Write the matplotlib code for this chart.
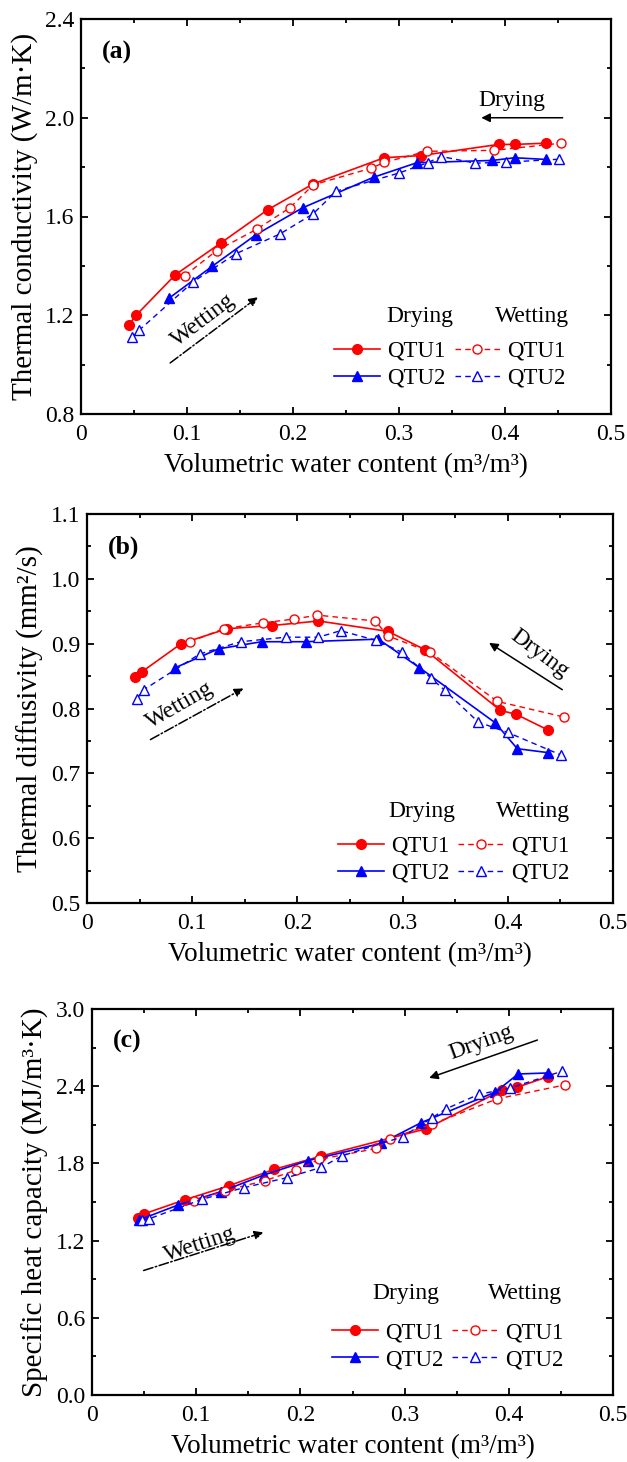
import numpy as np
import matplotlib
matplotlib.use("Agg")
import matplotlib.pyplot as plt

plt.rcParams["font.family"] = ["Liberation Serif", "DejaVu Serif"]
plt.rcParams["font.size"] = 17

# ---- (a) thermal conductivity (W/m.K)
a_dry1_x = [0.045, 0.052, 0.089, 0.132, 0.176, 0.219, 0.286, 0.321, 0.394, 0.409, 0.439]
a_dry1_y = [1.16, 1.20, 1.364, 1.493, 1.627, 1.732, 1.838, 1.847, 1.892, 1.892, 1.897]
a_wet1_x = [0.098, 0.128, 0.166, 0.197, 0.219, 0.274, 0.286, 0.326, 0.390, 0.453]
a_wet1_y = [1.361, 1.462, 1.549, 1.635, 1.728, 1.796, 1.819, 1.864, 1.868, 1.897]
a_dry2_x = [0.083, 0.124, 0.165, 0.209, 0.276, 0.317, 0.388, 0.409, 0.439]
a_dry2_y = [1.269, 1.399, 1.526, 1.635, 1.759, 1.818, 1.827, 1.838, 1.831]
a_wet2_x = [0.048, 0.055, 0.106, 0.146, 0.188, 0.219, 0.241, 0.300, 0.327, 0.340, 0.372, 0.401, 0.451]
a_wet2_y = [1.11, 1.14, 1.336, 1.449, 1.530, 1.611, 1.703, 1.776, 1.818, 1.843, 1.816, 1.820, 1.832]

# ---- (b) thermal diffusivity (mm2/s)
b_dry1_x = [0.046, 0.0525, 0.0895, 0.133, 0.176, 0.220, 0.286, 0.321, 0.393, 0.408, 0.438]
b_dry1_y = [0.848, 0.857, 0.900, 0.923, 0.928, 0.935, 0.919, 0.891, 0.797, 0.791, 0.767]
b_wet1_x = [0.098, 0.130, 0.167, 0.197, 0.219, 0.274, 0.286, 0.326, 0.390, 0.453]
b_wet1_y = [0.903, 0.923, 0.932, 0.938, 0.944, 0.935, 0.912, 0.887, 0.811, 0.787]
b_dry2_x = [0.084, 0.125, 0.166, 0.208, 0.277, 0.316, 0.388, 0.409, 0.438]
b_dry2_y = [0.863, 0.892, 0.903, 0.903, 0.907, 0.863, 0.778, 0.738, 0.732]
b_wet2_x = [0.0475, 0.054, 0.107, 0.146, 0.189, 0.220, 0.241, 0.275, 0.299, 0.327, 0.340, 0.372, 0.400, 0.451]
b_wet2_y = [0.815, 0.829, 0.884, 0.903, 0.910, 0.910, 0.920, 0.905, 0.887, 0.847, 0.828, 0.779, 0.763, 0.728]

# ---- (c) specific heat capacity (MJ/m3.K)
c_dry1_x = [0.044, 0.050, 0.089, 0.131, 0.175, 0.220, 0.321, 0.393, 0.408, 0.438]
c_dry1_y = [1.375, 1.408, 1.517, 1.625, 1.754, 1.857, 2.070, 2.367, 2.392, 2.475]
c_wet1_x = [0.0975, 0.128, 0.166, 0.196, 0.218, 0.273, 0.286, 0.326, 0.389, 0.454]
c_wet1_y = [1.509, 1.589, 1.666, 1.748, 1.831, 1.916, 1.993, 2.104, 2.302, 2.410]
c_dry2_x = [0.045, 0.083, 0.124, 0.165, 0.207, 0.277, 0.316, 0.387, 0.409, 0.438]
c_dry2_y = [1.36, 1.478, 1.581, 1.710, 1.821, 1.955, 2.117, 2.354, 2.495, 2.503]
c_wet2_x = [0.048, 0.055, 0.106, 0.146, 0.187, 0.220, 0.240, 0.298, 0.326, 0.340, 0.371, 0.401, 0.451]
c_wet2_y = [1.36, 1.37, 1.522, 1.612, 1.689, 1.769, 1.859, 2.006, 2.153, 2.225, 2.336, 2.385, 2.516]

xlabel = "Volumetric water content (m³/m³)"
ylabels = ["Thermal conductivity (W/m·K)", "Thermal diffusivity (mm²/s)",
           "Specific heat capacity (MJ/m³·K)"]
panel_tags = ["(a)", "(b)", "(c)"]
series_labels = ["QTU1", "QTU2", "QTU1", "QTU2"]

W, H = 627, 1462
fig = plt.figure(figsize=(W / 100, H / 100), dpi=100)

# axes boxes in pixels: left, top, right, bottom
boxes = [(81, 19, 611, 414), (87, 514, 613, 903), (92, 1009, 613, 1395)]
axs = []
for l, t, r, b in boxes:
    axs.append(fig.add_axes([l / W, 1 - b / H, (r - l) / W, (b - t) / H]))

red, blue = "#ff0000", "#0000ff"
wet_ls = (0, (4, 3))


def draw(ax, d1x, d1y, w1x, w1y, d2x, d2y, w2x, w2y):
    ax.plot(d1x, d1y, "-", color=red, marker="o", ms=7, lw=1.2)
    ax.plot(d2x, d2y, "-", color=blue, marker="^", ms=7, lw=1.2)
    ax.plot(w1x, w1y, ls=wet_ls, color=red, marker="o", ms=6.5, mfc="white", mew=1.0, lw=1.0)
    ax.plot(w2x, w2y, ls=wet_ls, color=blue, marker="^", ms=6.5, mfc="white", mew=1.0, lw=1.0)


draw(axs[0], a_dry1_x, a_dry1_y, a_wet1_x, a_wet1_y, a_dry2_x, a_dry2_y, a_wet2_x, a_wet2_y)
draw(axs[1], b_dry1_x, b_dry1_y, b_wet1_x, b_wet1_y, b_dry2_x, b_dry2_y, b_wet2_x, b_wet2_y)
draw(axs[2], c_dry1_x, c_dry1_y, c_wet1_x, c_wet1_y, c_dry2_x, c_dry2_y, c_wet2_x, c_wet2_y)

ylims = [(0.8, 2.4), (0.5, 1.1), (0.0, 3.0)]
ymajor = [0.4, 0.1, 0.6]
leg_anchor = [(0.936, 0.035), (0.939, 0.02), (0.927, 0.035)]
head_y = [0.2456, 0.234, 0.264]
head_x = [(0.64, 0.851), (0.636, 0.848), (0.603, 0.831)]
for i, ax in enumerate(axs):
    ax.set_xlim(0, 0.5)
    ax.set_ylim(*ylims[i])
    ax.set_xticks(np.arange(0, 0.51, 0.1))
    ax.set_xticks(np.arange(0.05, 0.5, 0.1), minor=True)
    lo, hi = ylims[i]
    ax.set_yticks(np.arange(lo, hi + 1e-6, ymajor[i]))
    ax.set_yticks(np.arange(lo + ymajor[i] / 2, hi, ymajor[i]), minor=True)
    ax.set_xticklabels(["0", "0.1", "0.2", "0.3", "0.4", "0.5"])
    ax.yaxis.set_major_formatter(matplotlib.ticker.FormatStrFormatter("%.1f"))
    ax.tick_params(which="both", direction="in", top=True, right=True, width=1.3)
    ax.tick_params(which="major", length=5, labelsize=17)
    ax.tick_params(axis="x", pad=7)
    ax.tick_params(axis="y", pad=5)
    ax.tick_params(which="minor", length=3)
    for s in ax.spines.values():
        s.set_linewidth(1.6)
    ax.set_xlabel(xlabel, fontsize=19.5, labelpad=6)
    ax.set_ylabel(ylabels[i], fontsize=21, labelpad=5)
    ax.text(0.04, 0.915, panel_tags[i], transform=ax.transAxes, fontsize=18.5,
            fontweight="bold", va="center", ha="left")

    # two-column legend, column headers as separate text
    ax.legend(ax.get_lines(), series_labels, ncol=2, loc="lower right",
              bbox_to_anchor=leg_anchor[i], frameon=False, fontsize=16.5,
              handlelength=2.0, handletextpad=0.3, columnspacing=0.4,
              labelspacing=0.25, borderpad=0.0)
    ax.text(head_x[i][0], head_y[i], "Drying", transform=ax.transAxes,
            ha="center", va="center", fontsize=17)
    ax.text(head_x[i][1], head_y[i], "Wetting", transform=ax.transAxes,
            ha="center", va="center", fontsize=17)

arrow_solid = dict(arrowstyle="-|>", color="black", lw=1.1, mutation_scale=13)
arrow_dashdot = dict(arrowstyle="-|>", color="black", lw=1.1, ls="-.", mutation_scale=13)

# (a)
axs[0].annotate("", xy=(0.375, 2.0), xytext=(0.457, 2.0), arrowprops=arrow_solid)
axs[0].text(0.406, 2.07, "Drying", ha="center", va="center", fontsize=17)
axs[0].annotate("", xy=(0.169, 1.28), xytext=(0.082, 1.0), arrowprops=arrow_dashdot)
axs[0].text(0.115, 1.18, "Wetting", ha="center", va="center", fontsize=17, rotation=37)

# (b)
axs[1].annotate("", xy=(0.38, 0.9036), xytext=(0.454, 0.8267), arrowprops=arrow_solid)
axs[1].text(0.43, 0.885, "Drying", ha="center", va="center", fontsize=17, rotation=-37)
axs[1].annotate("", xy=(0.151, 0.833), xytext=(0.058, 0.75), arrowprops=arrow_dashdot)
axs[1].text(0.088, 0.805, "Wetting", ha="center", va="center", fontsize=17, rotation=30)

# (c)
axs[2].annotate("", xy=(0.321, 2.457), xytext=(0.430, 2.766), arrowprops=arrow_solid)
axs[2].text(0.374, 2.74, "Drying", ha="center", va="center", fontsize=17, rotation=20)
axs[2].annotate("", xy=(0.167, 1.27), xytext=(0.047, 0.961), arrowprops=arrow_dashdot)
axs[2].text(0.104, 1.17, "Wetting", ha="center", va="center", fontsize=17, rotation=18)

fig.savefig("out.png", dpi=100)
